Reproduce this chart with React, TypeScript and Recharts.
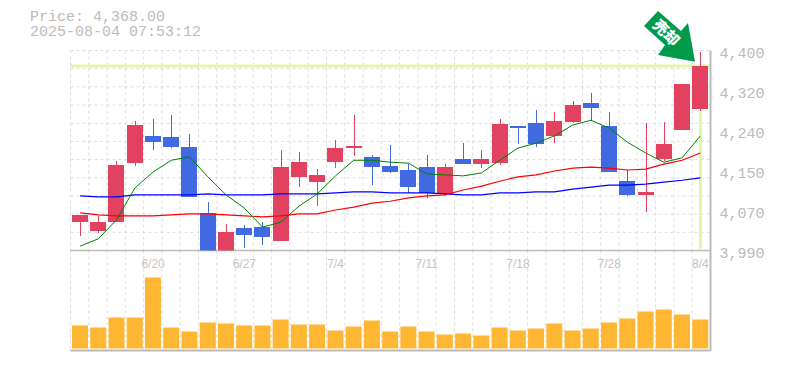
import { Bar, CartesianGrid, ComposedChart, Line, ReferenceLine, XAxis, YAxis } from 'recharts';

const dates = ['6/16', '6/17', '6/18', '6/19', '6/20', '6/23', '6/24', '6/25', '6/26', '6/27', '6/30', '7/1', '7/2', '7/3', '7/4', '7/7', '7/8', '7/9', '7/10', '7/11', '7/14', '7/15', '7/16', '7/17', '7/18', '7/22', '7/23', '7/24', '7/25', '7/28', '7/29', '7/30', '7/31', '8/1', '8/4'];
const dateTicks = ['6/20', '6/27', '7/4', '7/11', '7/18', '7/28', '8/4'];
const priceTicks = [3990, 4072, 4154, 4236, 4318, 4400];

const opens = [4048, 4030, 4048, 4169, 4225, 4223, 4202, 4067, 3990, 4036, 4038, 4009, 4141, 4130, 4171, 4200, 4182, 4163, 4155, 4161, 4106, 4178, 4167, 4169, 4245, 4251, 4225, 4253, 4292, 4245, 4132, 4104, 4178, 4237, 4280];
const closes = [4063, 4048, 4165, 4247, 4212, 4202, 4100, 3990, 4028, 4022, 4018, 4161, 4171, 4145, 4200, 4204, 4161, 4151, 4120, 4108, 4161, 4167, 4178, 4249, 4241, 4208, 4255, 4288, 4282, 4151, 4104, 4110, 4208, 4331, 4368];
const highs = [4063, 4061, 4173, 4255, 4260, 4268, 4229, 4089, 4044, 4042, 4048, 4196, 4192, 4157, 4216, 4268, 4186, 4206, 4167, 4186, 4167, 4210, 4196, 4260, 4245, 4278, 4274, 4296, 4313, 4274, 4155, 4251, 4253, 4331, 4397];
const lows = [4020, 4026, 4048, 4163, 4196, 4200, 4100, 3990, 3990, 3995, 4001, 4009, 4120, 4081, 4159, 4184, 4124, 4149, 4108, 4098, 4102, 4167, 4159, 4165, 4208, 4202, 4210, 4251, 4257, 4151, 4102, 4069, 4173, 4237, 4276];

const ma5 = [3999, 4014, 4053, 4118, 4151, 4175, 4182, 4141, 4104, 4077, 4038, 4048, 4081, 4106, 4143, 4175, 4175, 4171, 4169, 4147, 4145, 4143, 4149, 4175, 4200, 4210, 4225, 4247, 4257, 4241, 4212, 4190, 4171, 4180, 4225];
const ma25 = [4067, 4063, 4061, 4061, 4061, 4063, 4065, 4065, 4063, 4061, 4059, 4061, 4065, 4065, 4073, 4079, 4087, 4091, 4098, 4102, 4104, 4114, 4122, 4132, 4141, 4145, 4153, 4159, 4161, 4159, 4155, 4157, 4167, 4175, 4190];
const ma75 = [4102, 4100, 4100, 4104, 4104, 4104, 4104, 4106, 4104, 4104, 4104, 4106, 4106, 4106, 4108, 4110, 4110, 4108, 4108, 4108, 4106, 4104, 4104, 4108, 4108, 4110, 4110, 4116, 4120, 4124, 4124, 4126, 4130, 4134, 4139];
const volumes = [23, 21, 31, 31, 71, 21, 17, 26, 25, 23, 23, 29, 24, 24, 18, 22, 28, 17, 22, 17, 14, 15, 13, 21, 18, 20, 25, 18, 20, 26, 30, 37, 39, 34, 29];

const lastPrice = 4368;
const grey = '#bbbbbb';
const gridColor = '#dddddd';
const lime = '#e3f5a8';
const xPadding = { left: 0.5, right: 1 };

const priceData = dates.map((date, i) => ({
  date,
  open: opens[i],
  close: closes[i],
  range: [lows[i], highs[i]],
  ma5: ma5[i],
  ma25: ma25[i],
  ma75: ma75[i],
}));
const volumeData = dates.map((date, i) => ({ date, volume: volumes[i] }));

// wick and body share one bar: the bar spans low..high, the body is placed by proportion
const Candle = (props: any) => {
  const { x, y, width, height, payload } = props;
  const [low, high] = payload.range;
  const up = payload.close >= payload.open;
  const perUnit = height / (high - low);
  const top = y + (high - Math.max(payload.open, payload.close)) * perUnit;
  const bottom = y + (high - Math.min(payload.open, payload.close)) * perUnit;
  const color = up ? '#e2425f' : '#4169e1';
  return (
    <g shapeRendering="crispEdges">
      <rect x={Math.round(x + width / 2) - 0.5} y={y} width={1.2} height={height} fill={color} />
      <rect x={x} y={top} width={width} height={Math.max(bottom - top, 1)} fill={color} />
    </g>
  );
};

const bandEdges = ({ offset }: any) => Array.from({ length: 36 }, (_, i) => offset.left + (offset.width * i) / 35);
const rowEdges = ({ offset }: any) => Array.from({ length: 12 }, (_, i) => offset.top + (offset.height * i) / 11);

const formatPrice = (v: number) => (Math.round(v / 10) * 10).toLocaleString('en-US');

const mono = '"Liberation Mono", monospace';
const layer = { position: 'absolute', left: 0, top: 0 } as const;

export default function App() {
  return (
    <div style={{ position: 'absolute', left: 0, top: 0, width: 785, height: 370, background: '#fff', overflow: 'hidden' }}>
      <div style={{ position: 'absolute', left: 30, top: 10, fontFamily: mono, fontSize: 15, lineHeight: '15px', color: grey, whiteSpace: 'pre' }}>
        {'Price: 4,368.00\n2025-08-04 07:53:12'}
      </div>

      {/* grid and last-price lines sit behind everything else */}
      <div style={layer}>
        <ComposedChart width={785} height={370} data={priceData} margin={{ top: 50.5, right: 74.5, bottom: 119.5, left: 70.5 }} barCategoryGap={0}>
          <CartesianGrid stroke={gridColor} strokeDasharray="3 3" horizontalCoordinatesGenerator={rowEdges} verticalCoordinatesGenerator={bandEdges} />
          <XAxis dataKey="date" hide scale="band" padding={xPadding} />
          <YAxis hide domain={[3990, 4400]} allowDataOverflow />
          <ReferenceLine y={lastPrice} stroke={lime} strokeWidth={3} />
          <ReferenceLine
            segment={[
              { x: '8/4', y: 3994 },
              { x: '8/4', y: lastPrice },
            ]}
            stroke={lime}
            strokeWidth={3}
          />
        </ComposedChart>
      </div>

      <div style={layer}>
        <ComposedChart width={785} height={370} data={volumeData} margin={{ top: 250.5, right: 0, bottom: 19.5, left: 70.5 }} barCategoryGap={0}>
          <CartesianGrid stroke={gridColor} strokeDasharray="3 3" horizontal={false} verticalCoordinatesGenerator={bandEdges} />
          <XAxis
            dataKey="date"
            orientation="top"
            mirror
            padding={xPadding}
            ticks={dateTicks}
            interval={0}
            tickLine={false}
            tickMargin={3}
            axisLine={{ stroke: grey, strokeWidth: 1.5 }}
            tick={{ fill: '#c4c4c4', fontSize: 12, fontFamily: '"Liberation Sans", sans-serif' }}
          />
          <YAxis orientation="right" width={74.5} domain={[-2, 98]} tick={false} tickLine={false} axisLine={{ stroke: grey, strokeWidth: 2 }} />
          <ReferenceLine y={-2} stroke={grey} strokeWidth={2} />
          <Bar dataKey="volume" fill="#ffb733" barSize={16} isAnimationActive={false} />
        </ComposedChart>
      </div>

      <div style={layer}>
        <ComposedChart width={785} height={370} data={priceData} margin={{ top: 50.5, right: 0, bottom: 119.5, left: 70.5 }} barCategoryGap={0}>
          <XAxis dataKey="date" hide padding={xPadding} />
          <YAxis
            orientation="right"
            width={74.5}
            domain={[3990, 4400]}
            allowDataOverflow
            ticks={priceTicks}
            tickFormatter={formatPrice}
            tickLine={false}
            tickMargin={3}
            axisLine={{ stroke: grey, strokeWidth: 2 }}
            tick={{ fill: grey, fontSize: 15, fontFamily: mono, dy: 2 }}
          />
          <Line dataKey="ma75" stroke="#0000ff" strokeWidth={1.2} dot={false} isAnimationActive={false} />
          <Line dataKey="ma25" stroke="#ff0000" strokeWidth={1.2} dot={false} isAnimationActive={false} />
          <Line dataKey="ma5" stroke="#008000" strokeWidth={1} dot={false} isAnimationActive={false} />
          <Bar dataKey="range" barSize={16} shape={Candle} isAnimationActive={false} />
        </ComposedChart>
      </div>

      <svg width={785} height={370} style={{ position: 'absolute', left: 0, top: 0, pointerEvents: 'none' }}>
        <polygon points="658,11 644,26 665,45 658,55 695,61.7 688,23 681,31" fill="#009b4a" />
        <text
          x={667}
          y={32}
          transform="rotate(45 667 32)"
          textAnchor="middle"
          dominantBaseline="central"
          fill="#fff"
          fontSize={15}
          fontWeight={900}
          fontFamily='"Noto Sans CJK JP", sans-serif'
        >
          売却
        </text>
      </svg>
    </div>
  );
}
